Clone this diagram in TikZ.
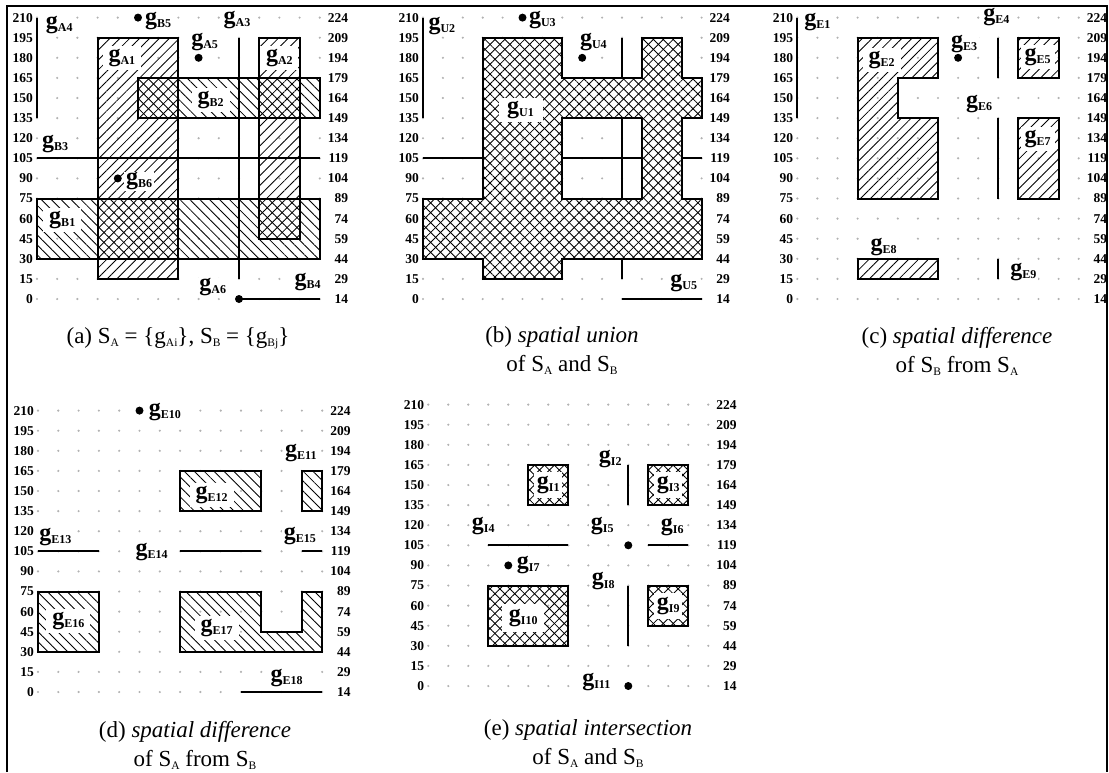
\documentclass[tikz,border=0pt]{standalone}
\usepackage{fontspec}
\setmainfont{Liberation Serif}
\usetikzlibrary{patterns.meta}

\newcommand\gsub[1]{{\fontsize{24}{24}\selectfont g}\raisebox{-3pt}{\fontsize{12}{12}\selectfont #1}}
\newcommand\csub[1]{\raisebox{-3pt}{\fontsize{11.5}{11.5}\selectfont #1}}

\tikzset{
  gridpt/.style={fill=black!30},
  numlbl/.style={font=\fontsize{13.5}{14}\selectfont\bfseries, inner sep=0pt},
  lab/.style={font=\bfseries, fill=white, inner xsep=2pt, inner ysep=0.5pt},
  inl/.style={lab, minimum width=38pt, minimum height=24pt, inner sep=0pt},
  inls/.style={lab, minimum width=28pt, minimum height=26pt, inner sep=0pt},
  outl/.style={draw, line width=2pt},
  seg/.style={line width=2pt},
  ptn/.style={circle, fill=black, inner sep=0pt, minimum size=8pt},
  nel/.style={pattern={Lines[angle=45,distance=7pt,line width=0.85pt]}},
  nwl/.style={pattern={Lines[angle=-45,distance=7pt,line width=0.85pt]}},
  captxt/.style={font=\fontsize{23}{29}\selectfont, align=center, inner sep=0pt},
}

\newcommand\panelgrid[1]{%
  \foreach \cc in {0,...,14}{\foreach \rr in {0,...,14}{\fill[gridpt] (\cc,\rr) circle[radius=1.2pt];}}
  \foreach \rr in {0,...,14}{%
    \pgfmathtruncatemacro\lv{15*\rr}\pgfmathtruncatemacro\rv{15*\rr+14}%
    \node[numlbl,anchor=east,xshift=-4pt] (#1l\rr) at (0,\rr) {\lv};
    \node[numlbl,anchor=east,xshift=28.5pt] (#1r\rr) at (14,\rr) {\rv};
  }%
}

\begin{document}
\begin{tikzpicture}[x=1pt,y=1pt]
\useasboundingbox (0,0) rectangle (1109,-772);
\draw[line width=1.5pt] (7,-772) -- (7,-6) -- (1107,-6) -- (1107,-772);

% ---------------- (a)
\begin{scope}[shift={(37pt,-299pt)}, x=20.2pt, y=20.1pt]
  \panelgrid{a}
  \path[nel] (3,1) rectangle (7,13);
  \path[nel] (11,3) rectangle (13,13);
  \path[nwl] (0,2) rectangle (14,5);
  \path[nwl] (5,9) rectangle (14,11);
  \draw[outl] (3,1) rectangle (7,13);
  \draw[outl] (11,3) rectangle (13,13);
  \draw[outl] (0,2) rectangle (14,5);
  \draw[outl] (5,9) rectangle (14,11);
  \draw[seg] (0,9) -- (0,14);
  \draw[seg] (10,1) -- (10,13);
  \draw[seg] (0,7) -- (14,7);
  \draw[seg] (10,0) -- (14,0);
  \node[ptn] (aA5) at (8,12) {};
  \node[ptn] (aA6) at (10,0) {};
  \node[ptn] (aB5) at (5,14) {};
  \node[ptn] (aB6) at (4,6) {};
  \node[lab] (aLA4) at (1.1,13.65) {\gsub{A4}};
  \node[lab] (aLB5) at (6.0,13.85) {\gsub{B5}};
  \node[lab] (aLA3) at (9.9,13.9) {\gsub{A3}};
  \node[lab] (aLA5) at (8.3,12.8) {\gsub{A5}};
  \node[inl] (aLA1) at (4.2,12) {\gsub{A1}};
  \node[inl] (aLA2) at (12,12) {\gsub{A2}};
  \node[inl] (aLB2) at (8.6,9.9) {\gsub{B2}};
  \node[lab] (aLB3) at (0.9,7.7) {\gsub{B3}};
  \node[lab] (aLB6) at (5.05,5.85) {\gsub{B6}};
  \node[inl] (aLB1) at (1.25,3.93) {\gsub{B1}};
  \node[lab] (aLA6) at (8.7,0.6) {\gsub{A6}};
  \node[lab] (aLB4) at (13.4,0.83) {\gsub{B4}};
\end{scope}
\node[captxt] (capa) at (178,-338) {(a) S\csub{A} = \{g\csub{Ai}\}, S\csub{B} = \{g\csub{Bj}\}};

% ---------------- (b)
\begin{scope}[shift={(423pt,-299pt)}, x=19.9pt, y=20.1pt]
  \panelgrid{b}
  \def\upath{(0,2) -- (3,2) -- (3,1) -- (7,1) -- (7,2) -- (14,2) -- (14,5) -- (13,5) -- (13,9) -- (14,9) -- (14,11) -- (13,11) -- (13,13) -- (11,13) -- (11,11) -- (7,11) -- (7,13) -- (3,13) -- (3,5) -- (0,5) -- cycle (7,5) -- (11,5) -- (11,9) -- (7,9) -- cycle}
  \path[nel, even odd rule] \upath;
  \path[nwl, even odd rule] \upath;
  \draw[outl] \upath;
  \draw[seg] (0,9) -- (0,14);
  \draw[seg] (0,7) -- (3,7);
  \draw[seg] (7,7) -- (11,7);
  \draw[seg] (13,7) -- (14,7);
  \draw[seg] (10,11) -- (10,13);
  \draw[seg] (10,5) -- (10,9);
  \draw[seg] (10,1) -- (10,2);
  \draw[seg] (10,0) -- (14,0);
  \node[ptn] (bU3) at (5,14) {};
  \node[ptn] (bU4) at (8,12) {};
  \node[lab] (bLU2) at (0.95,13.6) {\gsub{U2}};
  \node[lab] (bLU3) at (6.0,13.9) {\gsub{U3}};
  \node[lab] (bLU4) at (8.56,12.8) {\gsub{U4}};
  \node[inl, minimum width=44pt] (bLU1) at (4.9,9.4) {\gsub{U1}};
  \node[lab] (bLU5) at (13.1,0.8) {\gsub{U5}};
\end{scope}
\node[captxt] (capb) at (562,-351) {(b) \textit{spatial union}\\ of S\csub{A} and S\csub{B}};

% ---------------- (c)
\begin{scope}[shift={(797.3pt,-299pt)}, x=20.1pt, y=20.1pt]
  \panelgrid{c}
  \def\epath{(3,5) -- (7,5) -- (7,9) -- (5,9) -- (5,11) -- (7,11) -- (7,13) -- (3,13) -- cycle}
  \path[nel] \epath;
  \path[nel] (11,11) rectangle (13,13);
  \path[nel] (11,5) rectangle (13,9);
  \path[nel] (3,1) rectangle (7,2);
  \draw[outl] \epath;
  \draw[outl] (11,11) rectangle (13,13);
  \draw[outl] (11,5) rectangle (13,9);
  \draw[outl] (3,1) rectangle (7,2);
  \draw[seg] (0,9) -- (0,14);
  \draw[seg] (10,11) -- (10,13);
  \draw[seg] (10,5) -- (10,9);
  \draw[seg] (10,1) -- (10,2);
  \node[ptn] (cE3) at (8,12) {};
  \node[lab] (cLE1) at (1.0,13.8) {\gsub{E1}};
  \node[inl] (cLE2) at (4.2,11.9) {\gsub{E2}};
  \node[lab] (cLE3) at (8.3,12.7) {\gsub{E3}};
  \node[lab] (cLE4) at (9.9,14.05) {\gsub{E4}};
  \node[inl, minimum width=34pt] (cLE5) at (11.95,12.05) {\gsub{E5}};
  \node[lab] (cLE6) at (9.05,9.7) {\gsub{E6}};
  \node[inl, minimum width=34pt] (cLE7) at (11.95,7.95) {\gsub{E7}};
  \node[lab] (cLE8) at (4.3,2.6) {\gsub{E8}};
  \node[lab] (cLE9) at (11.25,1.35) {\gsub{E9}};
\end{scope}
\node[captxt] (capc) at (957,-351) {(c) \textit{spatial difference}\\ of S\csub{B} from S\csub{A}};

% ---------------- (d)
\begin{scope}[shift={(38pt,-692pt)}, x=20.3pt, y=20.1pt]
  \panelgrid{d}
  \def\fpath{(7,2) -- (14,2) -- (14,5) -- (13,5) -- (13,3) -- (11,3) -- (11,5) -- (7,5) -- cycle}
  \path[nwl] (0,2) rectangle (3,5);
  \path[nwl] \fpath;
  \path[nwl] (7,9) rectangle (11,11);
  \path[nwl] (13,9) rectangle (14,11);
  \draw[outl] (0,2) rectangle (3,5);
  \draw[outl] \fpath;
  \draw[outl] (7,9) rectangle (11,11);
  \draw[outl] (13,9) rectangle (14,11);
  \draw[seg] (0,7) -- (3,7);
  \draw[seg] (7,7) -- (11,7);
  \draw[seg] (13,7) -- (14,7);
  \draw[seg] (10,0) -- (14,0);
  \node[ptn] (dE10) at (5,14) {};
  \node[lab] (dLE10) at (6.25,13.95) {\gsub{E10}};
  \node[lab] (dLE11) at (12.95,11.9) {\gsub{E11}};
  \node[inl, minimum width=44pt] (dLE12) at (8.55,9.8) {\gsub{E12}};
  \node[lab] (dLE13) at (0.85,7.73) {\gsub{E13}};
  \node[lab] (dLE14) at (5.6,6.95) {\gsub{E14}};
  \node[lab] (dLE15) at (12.9,7.78) {\gsub{E15}};
  \node[inl, minimum width=44pt] (dLE16) at (1.5,3.55) {\gsub{E16}};
  \node[inl, minimum width=44pt] (dLE17) at (8.8,3.2) {\gsub{E17}};
  \node[lab] (dLE18) at (12.25,0.68) {\gsub{E18}};
\end{scope}
\node[captxt] (capd) at (195,-745) {(d) \textit{spatial difference}\\ of S\csub{A} from S\csub{B}};

% ---------------- (e)
\begin{scope}[shift={(428.3pt,-686pt)}, x=20pt, y=20.1pt]
  \panelgrid{e}
  \foreach \pp in {nel,nwl}{
    \path[\pp] (5,9) rectangle (7,11);
    \path[\pp] (11,9) rectangle (13,11);
    \path[\pp] (3,2) rectangle (7,5);
    \path[\pp] (11,3) rectangle (13,5);
  }
  \draw[outl] (5,9) rectangle (7,11);
  \draw[outl] (11,9) rectangle (13,11);
  \draw[outl] (3,2) rectangle (7,5);
  \draw[outl] (11,3) rectangle (13,5);
  \draw[seg] (10,9) -- (10,11);
  \draw[seg] (10,2) -- (10,5);
  \draw[seg] (3,7) -- (7,7);
  \draw[seg] (11,7) -- (13,7);
  \node[ptn] (eI5) at (10,7) {};
  \node[ptn] (eI7) at (4,6) {};
  \node[ptn] (eI11) at (10,0) {};
  \node[inls] (eLI1) at (6,10) {\gsub{I1}};
  \node[lab] (eLI2) at (9.1,11.3) {\gsub{I2}};
  \node[inls] (eLI3) at (12,10) {\gsub{I3}};
  \node[lab] (eLI4) at (2.75,7.97) {\gsub{I4}};
  \node[lab] (eLI5) at (8.7,7.97) {\gsub{I5}};
  \node[lab] (eLI6) at (12.2,7.9) {\gsub{I6}};
  \node[lab] (eLI7) at (5.0,6.0) {\gsub{I7}};
  \node[lab] (eLI8) at (8.75,5.2) {\gsub{I8}};
  \node[inls] (eLI9) at (12,4) {\gsub{I9}};
  \node[inl, minimum width=42pt, minimum height=28pt] (eLI10) at (4.75,3.4) {\gsub{I10}};
  \node[lab] (eLI11) at (8.4,0.2) {\gsub{I11}};
\end{scope}
\node[captxt] (cape) at (588,-744) {(e) \textit{spatial intersection}\\ of S\csub{A} and S\csub{B}};
\end{tikzpicture}
\end{document}
